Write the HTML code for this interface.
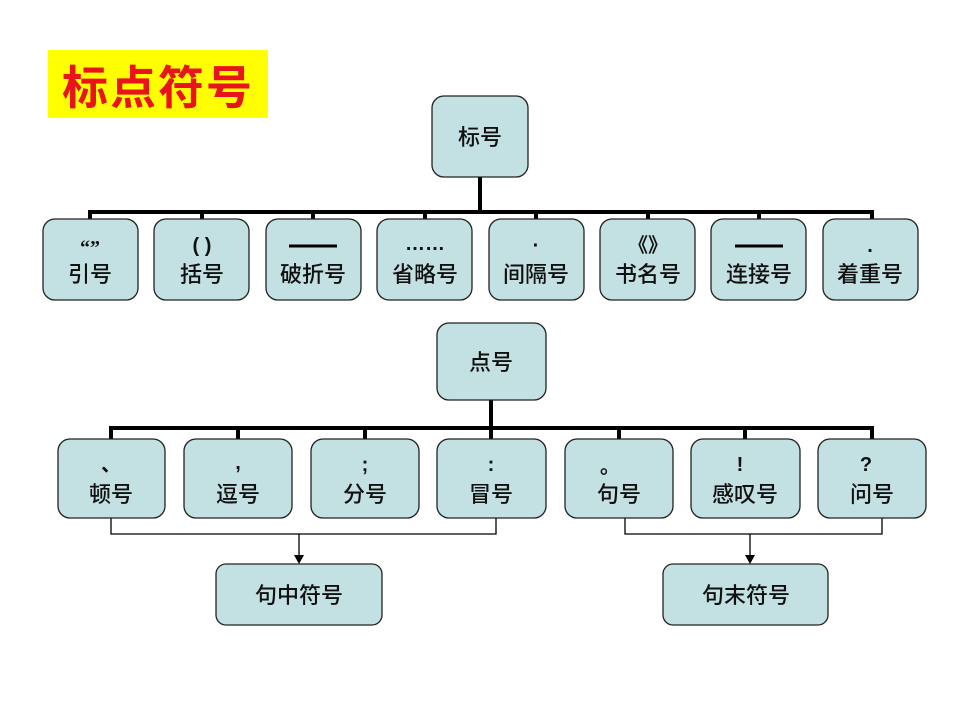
<!DOCTYPE html>
<html><head><meta charset="utf-8"><style>
body{margin:0;background:#fff;}
svg text{font-family:"Liberation Sans","Noto Sans CJK SC",sans-serif;fill:#111;text-anchor:middle;}
</style></head><body>
<svg width="960" height="720" xmlns="http://www.w3.org/2000/svg">
<rect x="48" y="50" width="220" height="68" fill="#ffff00"/>
<text x="158" y="104" style="font-size:46px;font-weight:bold;fill:#e8141a;letter-spacing:2px">标点符号</text>
<g stroke="#000" stroke-width="4" fill="none">
<line x1="480" y1="177" x2="480" y2="212"/>
<polyline points="90,219 90,212 872,212 872,219"/>
<line x1="202" y1="212" x2="202" y2="219"/><line x1="313" y1="212" x2="313" y2="219"/>
<line x1="425" y1="212" x2="425" y2="219"/><line x1="536" y1="212" x2="536" y2="219"/>
<line x1="648" y1="212" x2="648" y2="219"/><line x1="759" y1="212" x2="759" y2="219"/>
<line x1="491" y1="400" x2="491" y2="439"/>
<polyline points="111,439 111,428 872,428 872,439"/>
<line x1="238" y1="428" x2="238" y2="439"/><line x1="365" y1="428" x2="365" y2="439"/>
<line x1="619" y1="428" x2="619" y2="439"/><line x1="745" y1="428" x2="745" y2="439"/>
</g>
<g stroke="#000" stroke-width="1.3" fill="none">
<polyline points="111,518 111,534 496,534 496,518"/>
<line x1="299" y1="534" x2="299" y2="556"/>
<polyline points="625,518 625,534 882,534 882,518"/>
<line x1="750" y1="534" x2="750" y2="556"/>
</g>
<polygon points="294,555 304,555 299,564" fill="#000"/>
<polygon points="745,555 755,555 750,564" fill="#000"/>
<g fill="#c3e0e2" stroke="#222" stroke-width="1.3">
<rect x="432" y="96" width="96" height="81" rx="12"/>
<rect x="43" y="219" width="95" height="81" rx="12"/>
<rect x="154" y="219" width="95" height="81" rx="12"/>
<rect x="266" y="219" width="95" height="81" rx="12"/>
<rect x="377" y="219" width="95" height="81" rx="12"/>
<rect x="489" y="219" width="95" height="81" rx="12"/>
<rect x="600" y="219" width="95" height="81" rx="12"/>
<rect x="711" y="219" width="95" height="81" rx="12"/>
<rect x="823" y="219" width="95" height="81" rx="12"/>
<rect x="437" y="323" width="109" height="77" rx="12"/>
<rect x="58" y="439" width="107" height="79" rx="12"/>
<rect x="184" y="439" width="108" height="79" rx="12"/>
<rect x="311" y="439" width="108" height="79" rx="12"/>
<rect x="437" y="439" width="109" height="79" rx="12"/>
<rect x="565" y="439" width="108" height="79" rx="12"/>
<rect x="691" y="439" width="109" height="79" rx="12"/>
<rect x="818" y="439" width="108" height="79" rx="12"/>
<rect x="216" y="564" width="166" height="61" rx="10"/>
<rect x="663" y="564" width="165" height="61" rx="10"/>
</g>
<g style="font-size:22px;font-weight:500">
<text x="480" y="145">标号</text>
<text x="90" y="282">引号</text><text x="202" y="282">括号</text><text x="313" y="282">破折号</text>
<text x="425" y="282">省略号</text><text x="536" y="282">间隔号</text><text x="648" y="282">书名号</text>
<text x="759" y="282">连接号</text><text x="870" y="282">着重号</text>
<text x="491" y="370">点号</text>
<text x="111" y="502">顿号</text><text x="238" y="502">逗号</text><text x="365" y="502">分号</text>
<text x="491" y="502">冒号</text><text x="619" y="502">句号</text><text x="745" y="502">感叹号</text>
<text x="872" y="502">问号</text>
<text x="299" y="603">句中符号</text><text x="746" y="603">句末符号</text>
</g>
<g style="font-size:20px;font-weight:bold">
<text x="90" y="254" style="font-family:'Liberation Serif',serif">“”</text><text x="202" y="252">( )</text>
<text x="425" y="250">……</text><text x="536" y="252">·</text>
<text x="648" y="252">《》</text><text x="870" y="252">.</text>
<text x="111" y="471">、</text><text x="238" y="469">,</text><text x="365" y="471">;</text>
<text x="491" y="471">:</text><text x="610" y="473">。</text><text x="740" y="471">!</text><text x="866" y="471">?</text>
</g>
<g stroke="#000" stroke-width="3">
<line x1="289" y1="246" x2="337" y2="246"/>
<line x1="735" y1="246" x2="783" y2="246"/>
</g>
</svg>
</body></html>
